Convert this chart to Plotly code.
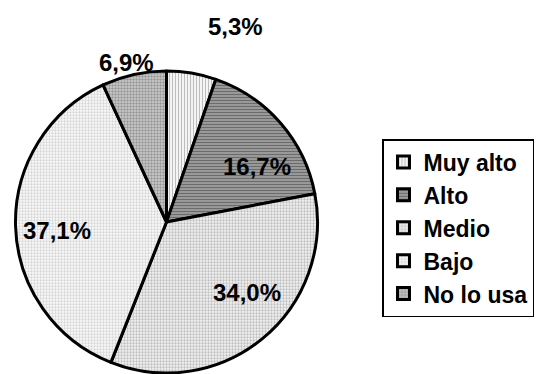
import plotly.graph_objects as go

# Usage level categories and their shares (%)
categories = ["Muy alto", "Alto", "Medio", "Bajo", "No lo usa"]
shares = [5.3, 16.7, 34.0, 37.1, 6.9]

# Fill styles per slice (background, pattern ink, pattern shape)
bg_colors = ["#ffffff", "#a8a8a8", "#f2f2f2", "#fafafa", "#cfcfcf"]
fg_colors = ["#7a7a7a", "#2e2e2e", "#8a8a8a", "#b0b0b0", "#5e5e5e"]
shapes = ["|", "-", ".", ".", "."]
pattern_sizes = [3, 3, 3, 3, 3]
pattern_solidity = [0.45, 0.5, 0.45, 0.45, 0.5]

# Label anchor points (pixels) for the percentage labels
label_x = [235, 257, 247, 57, 126]
label_y = [26, 166, 292, 230, 62]

W, H = 546, 374
FONT = "Arial, Liberation Sans, sans-serif"

fig = go.Figure(
    go.Pie(
        labels=[f"<b>{c}</b>" for c in categories],
        values=shares,
        sort=False,
        direction="clockwise",
        rotation=0,
        textinfo="none",
        hoverinfo="label+percent",
        marker=dict(
            colors=bg_colors,
            line=dict(color="black", width=3),
            pattern=dict(
                shape=shapes,
                fgcolor=fg_colors,
                bgcolor=bg_colors,
                size=pattern_sizes,
                solidity=pattern_solidity,
                fillmode="overlay",
            ),
        ),
        domain=dict(x=[15.5 / W, 317.5 / W], y=[1 - 373 / H, 1 - 71 / H]),
    )
)

# Percentage labels written from the shares
total = sum(shares)
for v, lx, ly in zip(shares, label_x, label_y):
    txt = f"{100 * v / total:.1f}".replace(".", ",") + "%"
    fig.add_annotation(
        x=lx / W, y=1 - ly / H, xref="paper", yref="paper",
        text=f"<b>{txt}</b>", showarrow=False,
        xanchor="center", yanchor="middle",
        font=dict(family=FONT, size=24, color="black"),
    )

fig.update_layout(
    width=W,
    height=H,
    margin=dict(l=0, r=0, t=0, b=0),
    paper_bgcolor="white",
    plot_bgcolor="white",
    separators=",.",
    font=dict(family=FONT, size=17, color="black"),
    legend=dict(
        x=382 / W,
        y=1 - 139 / H,
        xanchor="left",
        yanchor="top",
        bordercolor="black",
        borderwidth=1.5,
        bgcolor="white",
        font=dict(family=FONT, size=23, color="black"),
    ),
)

fig.write_html("out.html")
